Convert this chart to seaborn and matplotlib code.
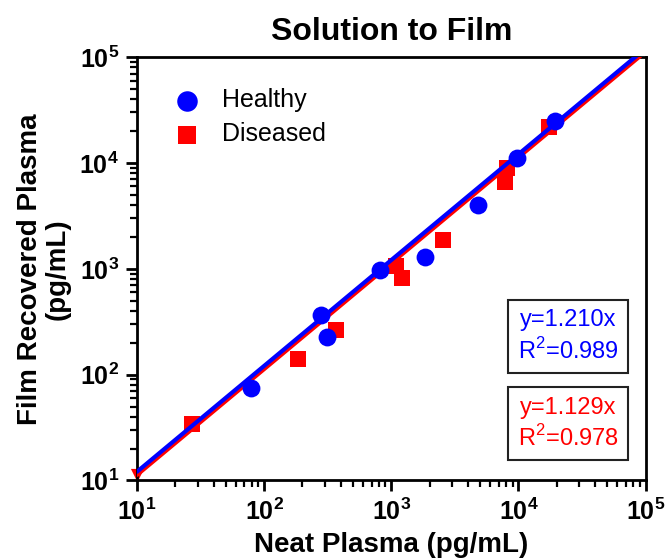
import numpy as np
import pandas as pd
import matplotlib
matplotlib.use('Agg')
import matplotlib.pyplot as plt
import seaborn as sns
from matplotlib.ticker import LogLocator, FuncFormatter, NullFormatter

# data (pg/mL)
healthy_neat = [79, 279, 313, 822, 1846, 4800, 9750, 19360]
healthy_film = [74, 365, 229, 966, 1306, 3970, 11100, 24660]
diseased_neat = [27, 183, 365, 1091, 1208, 2553, 7800, 8170, 17540]
diseased_film = [34.4, 142, 262, 1059, 826, 1884, 6600, 8900, 21630]
corner_neat = [10]
corner_film = [11.3]

slope_healthy = 1.210
r2_healthy = 0.989
slope_diseased = 1.129
r2_diseased = 0.978

x_lim = (1e1, 1e5)
y_lim = (1e1, 1e5)

sns.set_style('white')
plt.rcParams['font.family'] = ['Liberation Sans', 'DejaVu Sans']
plt.rcParams['mathtext.fontset'] = 'custom'
plt.rcParams['mathtext.rm'] = 'Liberation Sans'
plt.rcParams['mathtext.bf'] = 'Liberation Sans:bold'
for key in ['text.color', 'axes.labelcolor', 'xtick.color', 'ytick.color']:
    plt.rcParams[key] = 'black'

df = pd.DataFrame({
    'neat': healthy_neat + diseased_neat,
    'film': healthy_film + diseased_film,
    'group': ['Healthy'] * len(healthy_neat) + ['Diseased'] * len(diseased_neat),
})

fig = plt.figure(figsize=(6.66, 5.6), dpi=100)
ax = fig.add_axes([0.2057, 0.142, 0.7637, 0.756])

x_fit = np.array(x_lim)
fit = pd.DataFrame({
    'x': np.concatenate([x_fit, x_fit]),
    'y': np.concatenate([slope_diseased * x_fit, slope_healthy * x_fit]),
    'group': ['Diseased'] * 2 + ['Healthy'] * 2,
})

sns.scatterplot(data=df[df['group'] == 'Diseased'], x='neat', y='film', marker='s',
                color='#ff0000', s=130, linewidth=0, ax=ax, zorder=2, label='Diseased')
ax.scatter(corner_neat, corner_film, marker='v', color='#ff0000', s=90,
           linewidths=0, zorder=2, clip_on=False)
sns.lineplot(data=fit[fit['group'] == 'Diseased'], x='x', y='y', color='#ff0000',
             lw=3, ax=ax, zorder=3)
sns.lineplot(data=fit[fit['group'] == 'Healthy'], x='x', y='y', color='#0000ff',
             lw=3, ax=ax, zorder=4)
sns.scatterplot(data=df[df['group'] == 'Healthy'], x='neat', y='film', marker='o',
                color='#0000ff', s=165, linewidth=0, ax=ax, zorder=5, label='Healthy')

ax.set_xscale('log')
ax.set_yscale('log')
ax.set_xlim(x_lim)
ax.set_ylim(y_lim)

fmt = FuncFormatter(lambda v, p: r'$\mathbf{10^{%d}}$' % round(np.log10(v)))
for axis in (ax.xaxis, ax.yaxis):
    axis.set_major_locator(LogLocator(base=10, numticks=10))
    axis.set_minor_locator(LogLocator(base=10, subs=np.arange(2, 10), numticks=10))
    axis.set_major_formatter(fmt)
    axis.set_minor_formatter(NullFormatter())

ax.tick_params(which='major', direction='out', length=8, width=2, labelsize=18,
               bottom=True, left=True, pad=5)
ax.tick_params(which='minor', direction='out', length=5, width=1.6,
               bottom=True, left=True)
for sp in ax.spines.values():
    sp.set_linewidth(2)
    sp.set_color('black')

ax.set_xlabel('Neat Plasma (pg/mL)', fontsize=20, fontweight='bold', labelpad=5)
ax.set_ylabel('Film Recovered Plasma\n(pg/mL)', fontsize=20, fontweight='bold',
              labelpad=6, linespacing=1.1)
ax.set_title('Solution to Film', fontsize=23, fontweight='bold', pad=12)

handles, labels = ax.get_legend_handles_labels()
order = [labels.index('Healthy'), labels.index('Diseased')]
ax.legend([handles[i] for i in order], [labels[i] for i in order],
          loc='upper left', bbox_to_anchor=(0.03, 0.98), frameon=False,
          fontsize=18, handlelength=1.0, handletextpad=0.9, labelspacing=0.4,
          markerscale=1.15)

box = dict(boxstyle='square,pad=0.4', facecolor='white', edgecolor='#222222', lw=1.5)
ax.text(0.848, 0.340, 'y=%.3fx\nR$^2$=%.3f' % (slope_healthy, r2_healthy),
        transform=ax.transAxes, ha='center', va='center', fontsize=17,
        color='#0000ff', linespacing=1.3, bbox=box, zorder=6)
ax.text(0.848, 0.134, 'y=%.3fx\nR$^2$=%.3f' % (slope_diseased, r2_diseased),
        transform=ax.transAxes, ha='center', va='center', fontsize=17,
        color='#ff0000', linespacing=1.3, bbox=box, zorder=6)

fig.savefig('out.png', dpi=100)
plt.close(fig)
